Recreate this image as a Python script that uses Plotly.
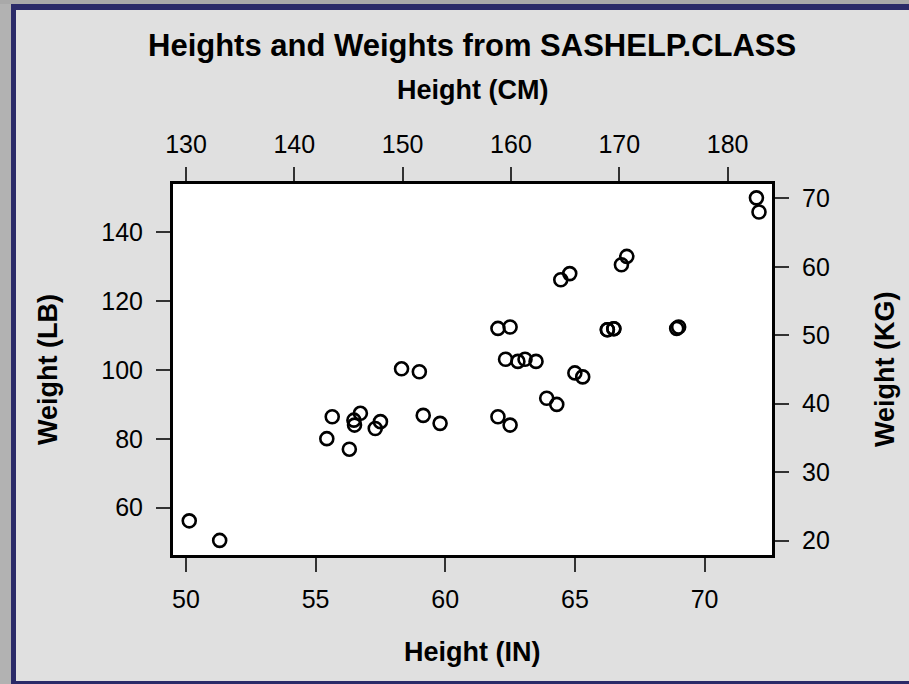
import plotly.graph_objects as go

# SASHELP.CLASS values
height_in = [69.0, 56.5, 65.3, 62.8, 63.5, 57.3, 59.8, 62.5, 62.5, 59.0,
             51.3, 64.3, 56.3, 66.5, 72.0, 64.8, 67.0, 57.5, 66.5]
weight_lb = [112.5, 84.0, 98.0, 102.5, 102.5, 83.0, 84.5, 112.5, 84.0, 99.5,
             50.5, 90.0, 77.0, 112.0, 150.0, 128.0, 133.0, 85.0, 112.0]
height_cm = [175.3, 143.5, 165.9, 159.5, 161.3, 145.5, 151.9, 158.8, 158.8, 149.9,
             130.3, 163.3, 143.0, 168.9, 182.9, 164.6, 170.2, 146.1, 168.9]
weight_kg = [51.0, 38.1, 44.5, 46.5, 46.5, 37.6, 38.3, 51.0, 38.1, 45.1,
             22.9, 40.8, 34.9, 50.8, 68.0, 58.1, 60.3, 38.6, 50.8]

x_ticks = [50, 55, 60, 65, 70]
x2_ticks = [130, 140, 150, 160, 170, 180]
y_ticks = [60, 80, 100, 120, 140]
y2_ticks = [20, 30, 40, 50, 60, 70]

W, H = 909, 684
L, R, T, B = 173, 772, 184, 555  # plot area in pixels
FONT = "Liberation Sans, Arial, sans-serif"


def px(x):
    return (x - L) / (R - L)


def py(y):
    return (B - y) / (B - T)


marker = dict(symbol="circle-open", size=13, color="black", line=dict(width=2.6, color="black"))

fig = go.Figure()
fig.add_trace(go.Scatter(x=height_in, y=weight_lb, mode="markers", marker=marker,
                         xaxis="x", yaxis="y", showlegend=False))
fig.add_trace(go.Scatter(x=height_cm, y=weight_kg, mode="markers", marker=marker,
                         xaxis="x2", yaxis="y2", showlegend=False))

axis_common = dict(showgrid=False, zeroline=False, showline=True, linecolor="black",
                   linewidth=3, ticks="outside", ticklen=14, tickwidth=1.5,
                   tickcolor="#333333", tickfont=dict(family=FONT, size=25, color="black"),
                   automargin=False)

fig.update_layout(
    width=W, height=H,
    margin=dict(l=L, r=W - R, t=T, b=H - B, pad=0),
    paper_bgcolor="#e0e0e0", plot_bgcolor="white",
    font=dict(family=FONT, color="black"),
    xaxis=dict(range=[49.5, 72.6], tickvals=x_ticks, ticklabelstandoff=6, **axis_common),
    xaxis2=dict(range=[128.8, 184.1], tickvals=x2_ticks, overlaying="x", side="top",
                anchor="y", ticklabelstandoff=4, **axis_common),
    yaxis=dict(range=[46.26, 154.03], tickvals=y_ticks, ticklabelstandoff=8, **axis_common),
    yaxis2=dict(range=[17.91, 72.09], tickvals=y2_ticks, overlaying="y", side="right",
                anchor="x", ticklabelstandoff=8, **axis_common),
)

annotations = [
    dict(text="<b>Heights and Weights from SASHELP.CLASS</b>", x=px(472), y=py(46),
         font=dict(size=31)),
    dict(text="<b>Height (CM)</b>", x=px(472), y=py(90), font=dict(size=27)),
    dict(text="<b>Height (IN)</b>", x=px(472), y=py(652), font=dict(size=27)),
    dict(text="<b>Weight (LB)</b>", x=px(48), y=py(370), font=dict(size=27), textangle=-90),
    dict(text="<b>Weight (KG)</b>", x=px(885), y=py(370), font=dict(size=27), textangle=-90),
]
for a in annotations:
    a.update(xref="paper", yref="paper", showarrow=False, xanchor="center", yanchor="middle")
    a["font"].update(family=FONT, color="black")
fig.update_layout(annotations=annotations)

# outer frame decoration
def rect(x0, y0, x1, y1, color):
    return dict(type="rect", xref="paper", yref="paper", x0=px(x0), x1=px(x1),
                y0=py(y1), y1=py(y0), fillcolor=color, line=dict(width=0), layer="below")

fig.update_layout(shapes=[
    rect(0, 0, 11, H, "#b2b2b2"),
    rect(0, 0, W, 4, "#a9a9a9"),
    rect(11, 4, W, 10, "#2a2a68"),
    rect(11, 4, 16, H, "#2a2a68"),
    rect(11, 681, W, H, "#2a2a68"),
])

fig.write_html("out.html")
